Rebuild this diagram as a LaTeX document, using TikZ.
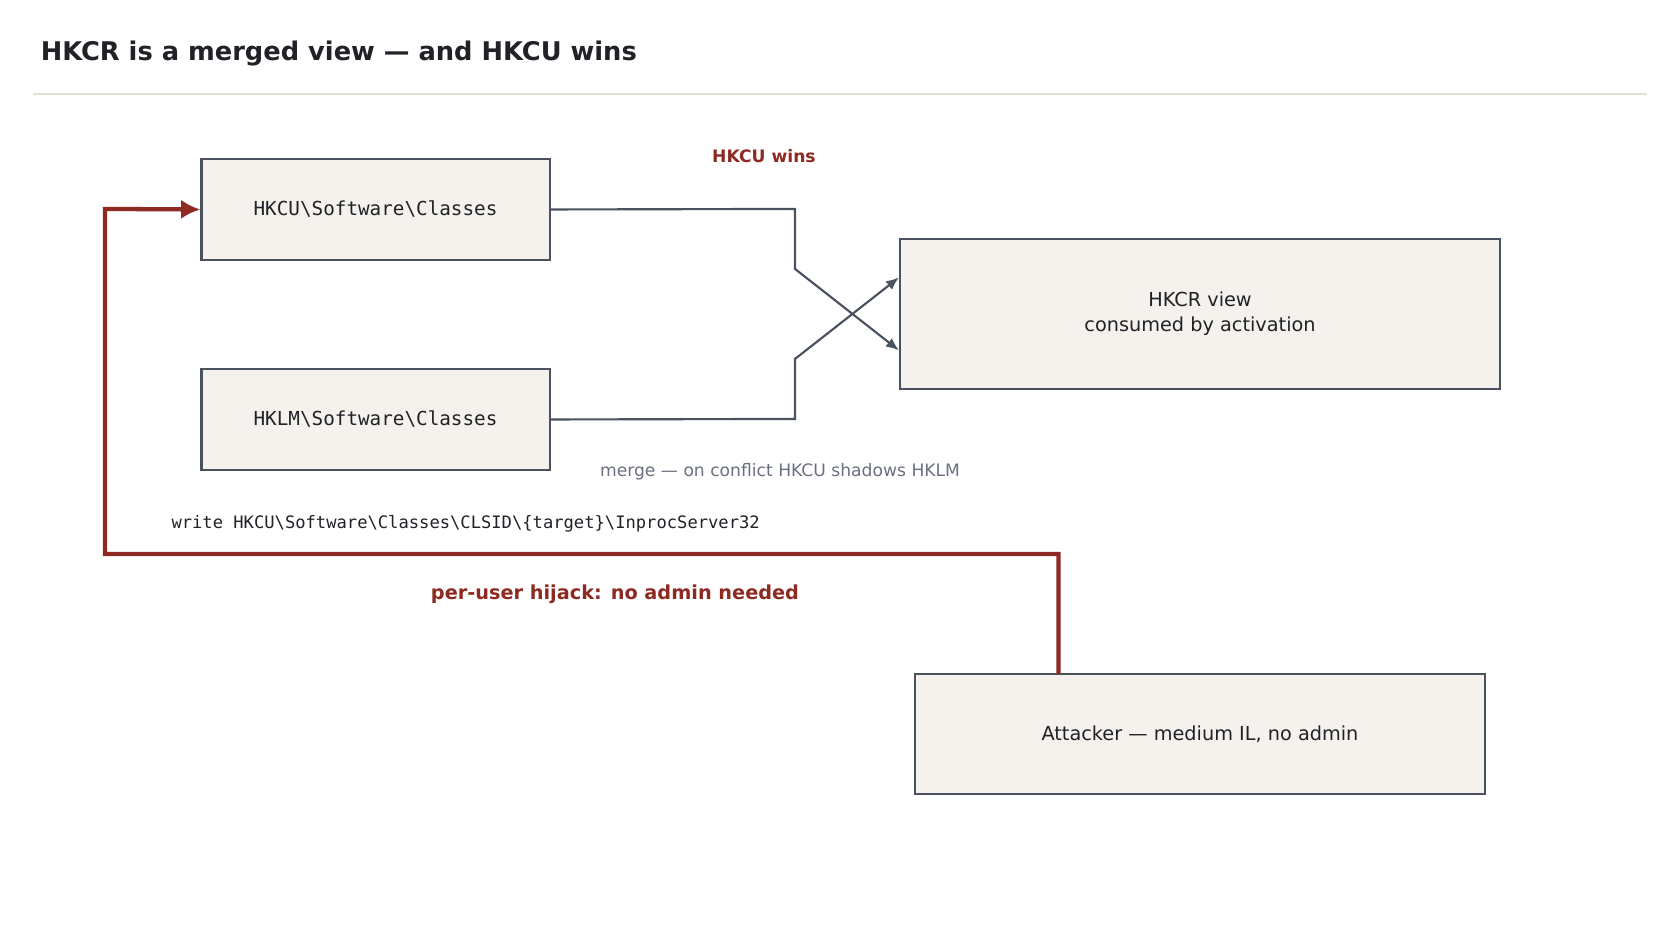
\documentclass[tikz,border=0pt]{standalone}
\usepackage{fontspec}
\setmainfont{DejaVu Sans}
\setmonofont{DejaVu Sans Mono}
\usetikzlibrary{arrows.meta}
\definecolor{edge}{HTML}{4A5260}
\definecolor{boxfill}{HTML}{F5F2ED}
\definecolor{hijack}{HTML}{8E2A22}
\definecolor{note}{HTML}{6B7080}
\definecolor{rulecol}{HTML}{E3E0D5}
\definecolor{ink}{HTML}{202228}

\tikzset{
  hive/.style={draw=edge,fill=boxfill,line width=1pt,inner sep=0pt,text=ink},
  feed/.style={draw=edge,line width=1pt,-{Latex[length=6pt,width=5pt]}},
  attack/.style={draw=hijack,line width=2pt,-{Latex[length=9pt,width=9pt]}},
}

\begin{document}
\begin{tikzpicture}[x=0.5pt,y=-0.5pt]
  \useasboundingbox[fill=white] (0,0) rectangle (1568,867);
  \node (TITLE) at (31,50) [anchor=west,text=ink,font=\fontsize{12}{14}\selectfont\bfseries] {HKCR is a merged view — and HKCU wins};
  \draw[rulecol,line width=1pt] (31,88) -- (1537,88);

  \node (HKCU) at (350.5,195.5) [hive,minimum width=162.5pt,minimum height=47.5pt,font=\ttfamily\fontsize{9}{11}\selectfont] {HKCU\textbackslash Software\textbackslash Classes};
  \node (HKLM) at (350.5,391.5) [hive,minimum width=162.5pt,minimum height=47.5pt,font=\ttfamily\fontsize{9}{11}\selectfont] {HKLM\textbackslash Software\textbackslash Classes};
  \node (HKCR) at (1120,293) [hive,minimum width=280pt,minimum height=70pt,align=center,font=\fontsize{9}{11.5}\selectfont] {HKCR view\\consumed by activation};
  \node (ATK) at (1120,685) [hive,minimum width=266pt,minimum height=56pt,font=\fontsize{9}{11}\selectfont] {Attacker — medium IL, no admin};

  \coordinate (cu1) at (742,195);
  \coordinate (cu2) at (742,251);
  \coordinate (lm1) at (742,391);
  \coordinate (lm2) at (742,335);
  \draw[feed] (HKCU.east) -- (cu1) -- (cu2) -- ([yshift=-17pt]HKCR.west);
  \draw[feed] (HKLM.east) -- (lm1) -- (lm2) -- ([yshift=17pt]HKCR.west);

  \node (WINS) at (713,146) [text=hijack,font=\fontsize{8}{10}\selectfont\bfseries] {HKCU wins};
  \node (MERGE) at (728,440) [text=note,font=\fontsize{8}{10}\selectfont] {merge — on conflict HKCU shadows HKLM};

  % hijack path
  \coordinate (hk1) at (988,517);
  \coordinate (hk2) at (98,517);
  \coordinate (hk3) at (98,195);
  \draw[attack] (988,629) -- (hk1) -- (hk2) -- (hk3) -- (HKCU.west);

  \node (WRITE) at (153,489) [anchor=west,text=ink,font=\ttfamily\fontsize{8}{10}\selectfont] {write HKCU\textbackslash Software\textbackslash Classes\textbackslash CLSID\textbackslash\{target\}\textbackslash InprocServer32};
  \node (PERUSER) at (574,555) [text=hijack,font=\fontsize{9}{11}\selectfont\bfseries] {per-user hijack: no admin needed};
\end{tikzpicture}
\end{document}
